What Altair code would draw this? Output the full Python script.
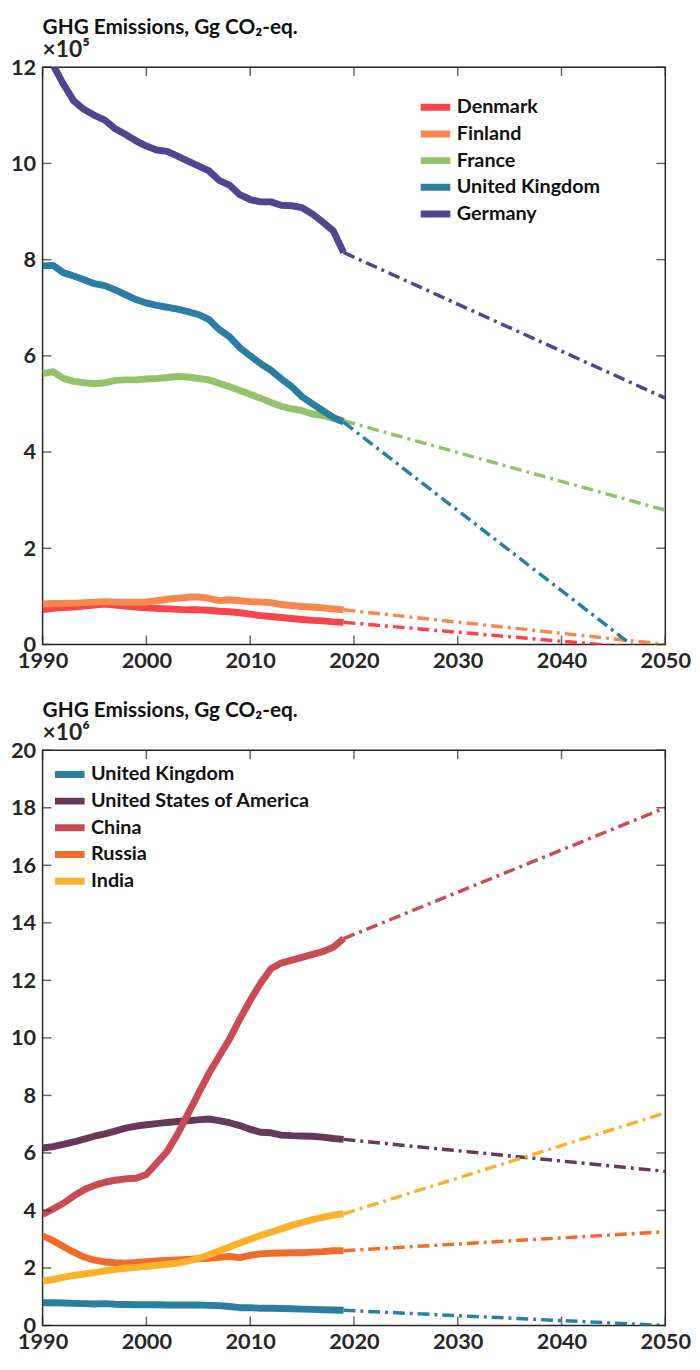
import altair as alt
import pandas as pd

years = list(range(1990, 2020))
x_ticks = [1990, 2000, 2010, 2020, 2030, 2040, 2050]

# ---------- Top panel (x10^5 Gg CO2-eq.) ----------
top_countries = ["Denmark", "Finland", "France", "United Kingdom", "Germany"]
top_colors = ["#f8444a", "#f7874c", "#93c26b", "#2a7ea1", "#4f468f"]
denmark = [0.72, 0.75, 0.77, 0.78, 0.80, 0.82, 0.84, 0.82, 0.80, 0.78,
           0.76, 0.75, 0.74, 0.73, 0.72, 0.72, 0.71, 0.69, 0.68, 0.66,
           0.63, 0.60, 0.58, 0.56, 0.54, 0.52, 0.50, 0.49, 0.47, 0.46]
finland = [0.84, 0.85, 0.85, 0.86, 0.87, 0.88, 0.89, 0.88, 0.88, 0.88,
           0.88, 0.91, 0.94, 0.96, 0.98, 0.99, 0.96, 0.91, 0.93, 0.91,
           0.89, 0.88, 0.87, 0.83, 0.81, 0.79, 0.78, 0.76, 0.74, 0.72]
france = [5.63, 5.67, 5.53, 5.47, 5.44, 5.42, 5.44, 5.49, 5.50, 5.50,
          5.52, 5.53, 5.55, 5.57, 5.56, 5.53, 5.50, 5.43, 5.36, 5.28,
          5.20, 5.12, 5.03, 4.95, 4.90, 4.86, 4.79, 4.76, 4.70, 4.65]
uk_top = [7.87, 7.88, 7.73, 7.66, 7.58, 7.50, 7.46, 7.37, 7.27, 7.17,
          7.10, 7.05, 7.01, 6.97, 6.92, 6.86, 6.76, 6.55, 6.40, 6.17,
          6.00, 5.84, 5.70, 5.52, 5.36, 5.15, 5.00, 4.86, 4.72, 4.62]
germany = [12.5, 12.05, 11.65, 11.3, 11.12, 11.0, 10.9, 10.72, 10.6, 10.47,
           10.36, 10.28, 10.25, 10.15, 10.05, 9.95, 9.85, 9.65, 9.55, 9.35,
           9.25, 9.2, 9.2, 9.13, 9.12, 9.08, 8.95, 8.78, 8.6, 8.15]
top_hist = [denmark, finland, france, uk_top, germany]
top_proj_2050 = [-0.12, 0.0, 2.79, -0.55, 5.12]
top_y_ticks = [0, 2, 4, 6, 8, 10, 12]

# ---------- Bottom panel (x10^6 Gg CO2-eq.) ----------
bot_countries = ["United Kingdom", "United States of America", "China", "Russia", "India"]
bot_colors = ["#2a7ea1", "#663a57", "#c84b55", "#f06c2a", "#fdb02a"]
uk_bot = [0.79, 0.79, 0.78, 0.77, 0.76, 0.75, 0.76, 0.74, 0.73, 0.72,
          0.72, 0.72, 0.71, 0.71, 0.71, 0.71, 0.70, 0.69, 0.66, 0.62,
          0.62, 0.60, 0.60, 0.59, 0.58, 0.57, 0.56, 0.55, 0.54, 0.53]
usa = [6.17, 6.22, 6.30, 6.38, 6.48, 6.58, 6.66, 6.76, 6.86, 6.93,
       6.98, 7.02, 7.06, 7.09, 7.12, 7.15, 7.18, 7.12, 7.05, 6.95,
       6.82, 6.72, 6.70, 6.62, 6.60, 6.59, 6.58, 6.55, 6.50, 6.47]
china = [3.86, 4.05, 4.25, 4.50, 4.72, 4.87, 4.98, 5.05, 5.10, 5.12,
         5.25, 5.65, 6.05, 6.65, 7.35, 8.05, 8.75, 9.35, 9.95, 10.65,
         11.3, 11.9, 12.4, 12.6, 12.7, 12.8, 12.9, 13.0, 13.15, 13.45]
russia = [3.12, 2.95, 2.75, 2.55, 2.38, 2.27, 2.21, 2.18, 2.17, 2.19,
          2.22, 2.24, 2.26, 2.28, 2.30, 2.32, 2.34, 2.37, 2.40, 2.36,
          2.44, 2.49, 2.51, 2.52, 2.53, 2.53, 2.55, 2.57, 2.60, 2.60]
india = [1.54, 1.60, 1.67, 1.74, 1.79, 1.84, 1.90, 1.95, 1.99, 2.02,
         2.05, 2.09, 2.13, 2.17, 2.24, 2.33, 2.45, 2.59, 2.73, 2.87,
         3.00, 3.13, 3.24, 3.36, 3.48, 3.58, 3.68, 3.76, 3.84, 3.88]
bot_hist = [uk_bot, usa, china, russia, india]
bot_proj_2050 = [0.0, 5.36, 18.0, 3.26, 7.39]
bot_y_ticks = [0, 2, 4, 6, 8, 10, 12, 14, 16, 18, 20]

FONT = "Lato"
WEIGHT = "bold"
INK = "#262626"


def panel(countries, colors, hist, proj_end, y_ticks, exponent, height,
          legend_x, legend_y):
    hist_rows, proj_rows = [], []
    for i, (c, vals) in enumerate(zip(countries, hist)):
        for yr, v in zip(years, vals):
            hist_rows.append({"year": yr, "value": v, "country": c})
        proj_rows.append({"year": 2019, "value": vals[-1], "country": c})
        proj_rows.append({"year": 2050, "value": proj_end[i], "country": c})
    hist_df = pd.DataFrame(hist_rows)
    proj_df = pd.DataFrame(proj_rows)

    xs = alt.Scale(domain=[1990, 2050], nice=False, zero=False)
    ys = alt.Scale(domain=[y_ticks[0], y_ticks[-1]], nice=False, zero=False)
    x_enc = alt.X("year:Q", scale=xs, title=None,
                  axis=alt.Axis(values=x_ticks, format="d", labelPadding=6,
                                labelFlush=False))
    y_enc = alt.Y("value:Q", scale=ys, title=None,
                  axis=alt.Axis(values=y_ticks, format="d", labelPadding=7,
                                minExtent=34, maxExtent=34))
    color_scale = alt.Scale(domain=countries, range=colors)

    hist_layer = alt.Chart(hist_df).mark_line(
        strokeWidth=7, clip=True, strokeCap="butt", strokeJoin="round"
    ).encode(
        x=x_enc, y=y_enc,
        color=alt.Color("country:N", scale=color_scale, sort=countries,
                        legend=alt.Legend(
                            orient="none", legendX=legend_x, legendY=legend_y,
                            title=None, symbolType="stroke", symbolSize=900,
                            symbolStrokeWidth=7, symbolDash=[1, 0],
                            labelFont=FONT, labelFontWeight=WEIGHT,
                            labelFontSize=20, labelColor="#111",
                            labelOffset=3, rowPadding=0, padding=0,
                            clipHeight=27, labelLimit=0, symbolOpacity=1)),
    )
    proj_layer = alt.Chart(proj_df).mark_line(
        strokeWidth=3.5, clip=True, strokeDash=[12, 5, 3, 5]
    ).encode(
        x=x_enc, y=y_enc,
        color=alt.Color("country:N", scale=color_scale, sort=countries, legend=None),
        detail="country:N",
    )

    xt = pd.DataFrame({"year": x_ticks})
    yt = pd.DataFrame({"value": y_ticks})
    tick_style = dict(color=INK, thickness=1.5, size=9)
    bottom_ticks = alt.Chart(xt).mark_tick(orient="vertical", yOffset=-4.5, **tick_style).encode(
        x=x_enc, y=alt.datum(y_ticks[0]))
    top_ticks = alt.Chart(xt).mark_tick(orient="vertical", yOffset=4.5, **tick_style).encode(
        x=x_enc, y=alt.datum(y_ticks[-1]))
    left_ticks = alt.Chart(yt).mark_tick(orient="horizontal", xOffset=4.5, **tick_style).encode(
        y=y_enc, x=alt.datum(1990))
    right_ticks = alt.Chart(yt).mark_tick(orient="horizontal", xOffset=-4.5, **tick_style).encode(
        y=y_enc, x=alt.datum(2050))

    return alt.layer(hist_layer, proj_layer, bottom_ticks, top_ticks,
                     left_ticks, right_ticks).properties(
        width=630, height=height,
        title=alt.TitleParams(
            text="GHG Emissions, Gg CO₂-eq.", subtitle=exponent,
            anchor="start", frame="group", font=FONT, fontWeight=WEIGHT,
            fontSize=21, color="#111", subtitleFont=FONT,
            subtitleFontWeight=WEIGHT, subtitleFontSize=23,
            subtitleColor=INK, subtitlePadding=2, offset=-6),
    )


top = panel(top_countries, top_colors, top_hist, top_proj_2050, top_y_ticks,
            "×10⁵", 584, 379, 27)
bottom = panel(bot_countries, bot_colors, bot_hist, bot_proj_2050, bot_y_ticks,
               "×10⁶", 582, 9, 11)

chart = alt.vconcat(top, bottom, spacing=27).resolve_scale(
    x="independent", y="independent", color="independent"
).resolve_legend(color="independent").properties(
    padding={"left": 0, "top": 0, "right": 0, "bottom": 0},
    background="white",
).configure_view(
    stroke=INK, strokeWidth=1.5
).configure_axis(
    labelFont=FONT, labelFontWeight=WEIGHT, labelFontSize=22,
    labelColor=INK, ticks=False, domain=False, grid=False,
)

chart.save("out.html", embed_options={"renderer": "svg", "actions": False})
